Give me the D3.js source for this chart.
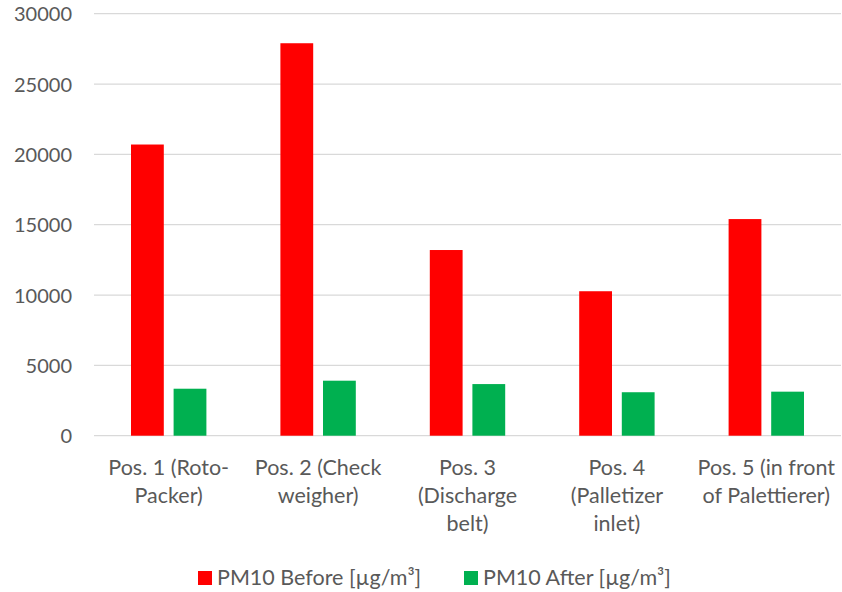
<!DOCTYPE html>
<html>
<head>
<meta charset="utf-8">
<script src="https://cdn.jsdelivr.net/npm/d3@7"></script>
<style>
  html, body { margin: 0; padding: 0; background: #fff; }
  svg { display: block; }
  text { font-family: Lato, "Noto Sans", sans-serif; fill: #595959; }
</style>
</head>
<body>
<svg id="chart" width="842" height="592"></svg>
<script>
const categories = [
  ["Pos. 1 (Roto-", "Packer)"],
  ["Pos. 2 (Check", "weigher)"],
  ["Pos. 3", "(Discharge", "belt)"],
  ["Pos. 4", "(Palletizer", "inlet)"],
  ["Pos. 5 (in front", "of Palettierer)"]
];
const seriesNames = ["PM10 Before [µg/m³]", "PM10 After [µg/m³]"];
const before = [20700, 27900, 13200, 10270, 15400];
const after = [3340, 3910, 3670, 3090, 3130];
const yTicks = [0, 5000, 10000, 15000, 20000, 25000, 30000];
const colors = ["#FF0000", "#00B050"];

const svg = d3.select("#chart");
const margin = { left: 94, right: 1, top: 13.7, bottom: 156.3 };
const W = 842, H = 592;

const x0 = d3.scaleBand().domain(d3.range(categories.length))
  .range([margin.left, W - margin.right]).paddingInner(0).paddingOuter(0);
const bw = x0.bandwidth();
const barW = 32.8, gap = 9.8;
const offset = (bw - (2 * barW + gap)) / 2;
const xi = d3.scaleOrdinal().domain([0, 1]).range([offset, offset + barW + gap]);

const y = d3.scaleLinear().domain([0, 30000]).range([H - margin.bottom, margin.top]);

// gridlines
svg.append("g").selectAll("line").data(yTicks).join("line")
  .attr("x1", margin.left).attr("x2", W - margin.right)
  .attr("y1", d => y(d)).attr("y2", d => y(d))
  .attr("stroke", "#D9D9D9").attr("stroke-width", 1.3);

// y axis labels
const yAxis = d3.axisLeft(y).tickValues(yTicks).tickSize(0).tickPadding(0).tickFormat(d3.format("d"));
const gy = svg.append("g").attr("transform", `translate(72,0)`).call(yAxis);
gy.select(".domain").remove();
gy.selectAll("text").attr("font-size", 20).attr("font-family", "Lato, 'Noto Sans', sans-serif").attr("fill", "#595959").attr("dy", "0.35em");

// bars
const data = [before, after];
const g = svg.append("g");
categories.forEach((c, i) => {
  data.forEach((s, j) => {
    g.append("rect")
      .attr("x", x0(i) + xi(j))
      .attr("width", barW)
      .attr("y", y(s[i]))
      .attr("height", y(0) - y(s[i]))
      .attr("fill", colors[j]);
  });
});

// category labels
const lab = svg.append("g");
categories.forEach((lines, i) => {
  const t = lab.append("text")
    .attr("x", x0(i) + bw / 2)
    .attr("y", 475)
    .attr("text-anchor", "middle")
    .attr("font-size", 21.5);
  lines.forEach((ln, k) => {
    t.append("tspan").attr("x", x0(i) + bw / 2).attr("y", 475 + k * 28).text(ln);
  });
});

// legend
const legX = [198, 464];
const leg = svg.append("g");
seriesNames.forEach((n, j) => {
  leg.append("rect").attr("x", legX[j]).attr("y", 571).attr("width", 14).attr("height", 14).attr("fill", colors[j]);
  leg.append("text").attr("x", legX[j] + 19).attr("y", 585).attr("font-size", 21.5).text(n);
});
</script>
</body>
</html>
